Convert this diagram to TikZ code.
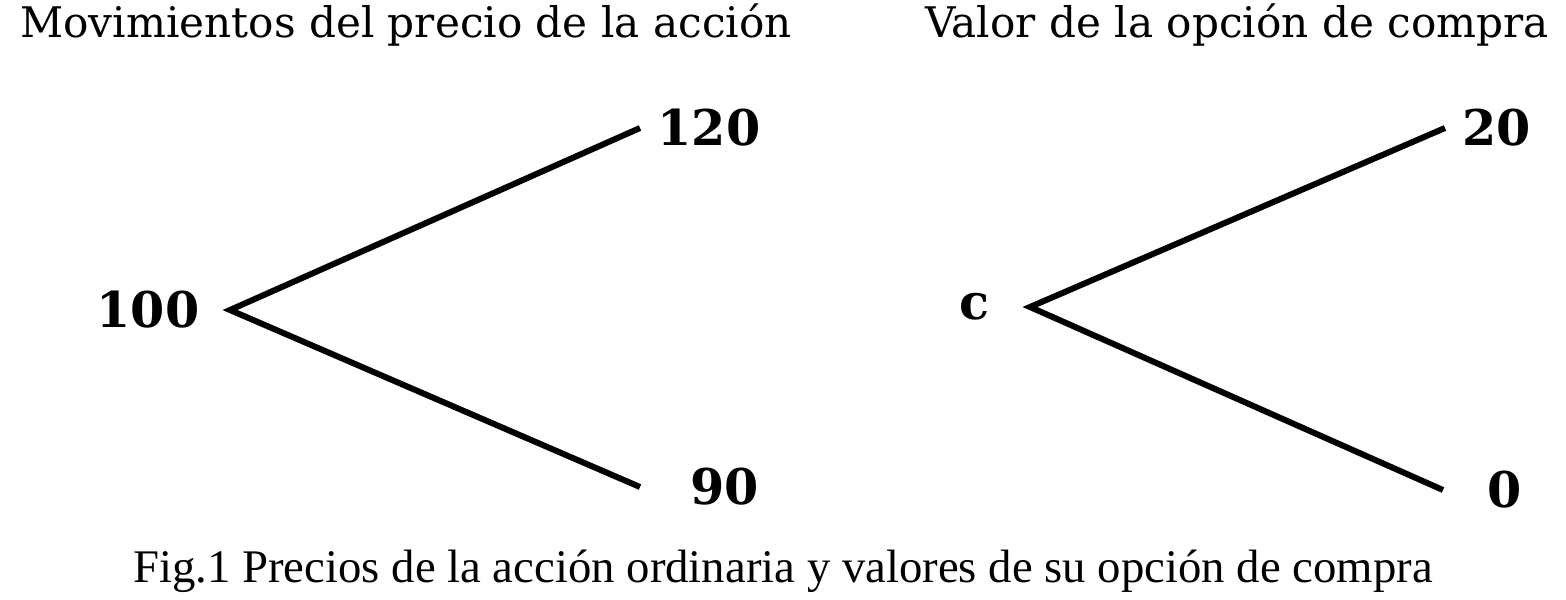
\documentclass[tikz,border=0pt]{standalone}
\usepackage{fontspec}
\setmainfont{Liberation Serif}
\newfontfamily\oldfont{DejaVu Serif}
\usetikzlibrary{positioning}

\begin{document}
\begin{tikzpicture}[
  title/.style={font=\oldfont\fontsize{12}{14}\selectfont, inner sep=0pt, anchor=base},
  num/.style={font=\oldfont\bfseries\fontsize{14}{16}\selectfont, inner sep=0pt},
  branch/.style={line width=0.06cm, line join=miter}
]
  \useasboundingbox (0,0) rectangle (15.66,-6.00);

  % titles
  \node[title] (tstock) at (4.06,-0.37) {Movimientos del precio de la acción};
  \node[title] (tcall) at (12.37,-0.37) {Valor de la opción de compra};

  % stock price tree
  \coordinate (s0) at (2.30,-3.10);
  \coordinate (su) at (6.40,-1.28);
  \coordinate (sd) at (6.40,-4.87);
  \draw[branch] (su) -- (s0) -- (sd);
  \node[num, left=0.30cm of s0] (n100) {100};
  \node[num, right=0.17cm of su] (n120) {120};
  \node[num, right=0.50cm of sd] (n90) {90};

  % call value tree
  \coordinate (c0) at (10.30,-3.07);
  \coordinate (cu) at (14.45,-1.28);
  \coordinate (cd) at (14.43,-4.90);
  \draw[branch] (cu) -- (c0) -- (cd);
  \node[num, left=0.40cm of c0] (nc) {c};
  \node[num, right=0.17cm of cu] (n20) {20};
  \node[num, right=0.44cm of cd] (n0) {0};

  % caption
  \node[anchor=base, inner sep=0pt, font=\fontsize{13.3}{15}\selectfont] (cap) at (7.83,-5.82)
    {Fig.1 Precios de la acción ordinaria y valores de su opción de compra};
\end{tikzpicture}
\end{document}
